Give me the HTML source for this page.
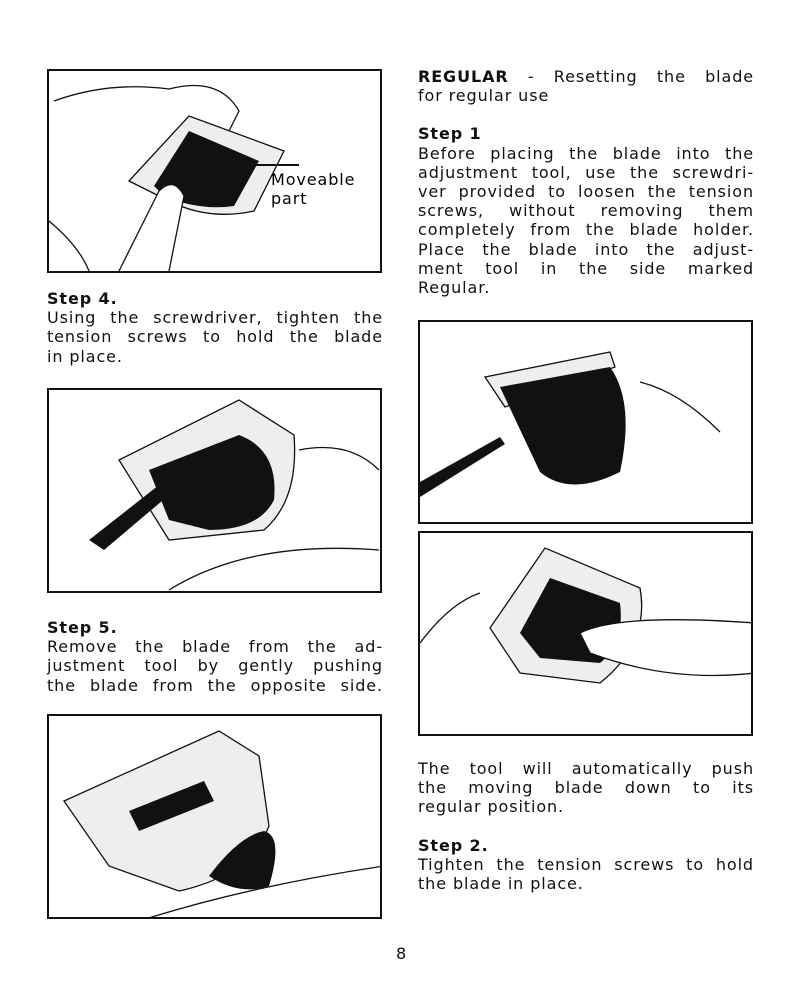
<!DOCTYPE html>
<html><head><meta charset="utf-8"><style>
body{margin:0;width:800px;height:1000px;background:#fff;position:relative;font-family:"DejaVu Sans","Liberation Sans",sans-serif;color:#111;overflow:hidden}
.box{position:absolute;border:2px solid #111;box-sizing:border-box;background:#fff;overflow:hidden}
.t{position:absolute;font-size:16px;line-height:19.2px;width:335px}
.t div{white-space:nowrap;text-align:justify;text-align-last:justify;letter-spacing:0.9px;width:336px}
.t div.l{text-align-last:left}
b{font-weight:bold}
svg{position:absolute;left:0;top:0}
</style></head><body>

<div class="box" style="left:47px;top:69px;width:335px;height:204px">
<svg width="335" height="204">
<path d="M5 30 Q60 10 120 18 Q170 5 190 40 L180 60" fill="none" stroke="#111" stroke-width="1.3"/>
<path d="M80 110 L140 45 L235 80 L205 140 Q160 150 120 130 Z" fill="#eee" stroke="#111" stroke-width="1.3"/>
<path d="M105 115 L140 60 L210 90 L185 135 Q150 140 115 125 Z" fill="#111"/>
<path d="M70 200 L110 120 Q125 105 135 125 L120 200" fill="#fff" stroke="#111" stroke-width="1.3"/>
<path d="M0 150 Q30 175 40 200" fill="none" stroke="#111" stroke-width="1.3"/>
<line x1="195" y1="94" x2="250" y2="94" stroke="#111" stroke-width="2"/>
<text x="222" y="114" font-size="16" letter-spacing="0.9" font-family="DejaVu Sans">Moveable</text>
<text x="222" y="133" font-size="16" letter-spacing="0.9" font-family="DejaVu Sans">part</text>
</svg></div>

<div class="t" style="left:47px;top:289px"><div class="l"><b>Step 4.</b></div>
<div>Using the screwdriver, tighten the</div><div>tension screws to hold the blade</div><div class="l">in place.</div></div>

<div class="box" style="left:47px;top:388px;width:335px;height:205px">
<svg width="335" height="205">
<path d="M70 70 L190 10 L245 45 Q250 110 215 140 L120 150 Z" fill="#eee" stroke="#111" stroke-width="1.3"/>
<path d="M100 80 L190 45 Q230 60 225 110 Q210 140 160 140 L120 130 Z" fill="#111"/>
<path d="M40 150 L110 95 L120 105 L55 160 Z" fill="#111"/>
<path d="M120 200 Q200 150 330 160" fill="none" stroke="#111" stroke-width="1.3"/>
<path d="M250 60 Q300 50 330 80" fill="none" stroke="#111" stroke-width="1.3"/>
</svg></div>

<div class="t" style="left:47px;top:618px"><div class="l"><b>Step 5.</b></div>
<div>Remove the blade from the ad-</div><div>justment tool by gently pushing</div><div>the blade from the opposite side.</div></div>

<div class="box" style="left:47px;top:714px;width:335px;height:205px">
<svg width="335" height="205">
<path d="M15 85 L170 15 L210 40 L220 110 Q200 160 130 175 L60 150 Z" fill="#eee" stroke="#111" stroke-width="1.3"/>
<path d="M80 95 L155 65 L165 85 L90 115 Z" fill="#111"/>
<path d="M160 160 Q190 120 215 115 Q235 120 220 170 Q190 180 160 160 Z" fill="#111"/>
<path d="M90 205 Q200 170 335 150" fill="none" stroke="#111" stroke-width="1.3"/>
</svg></div>

<div class="t" style="left:418px;top:67px"><div><b>REGULAR</b> - Resetting the blade</div><div class="l">for regular use</div>
<div class="l" style="margin-top:19px"><b>Step 1</b></div>
<div>Before placing the blade into the</div><div>adjustment tool, use the screwdri-</div><div>ver provided to loosen the tension</div><div>screws, without removing them</div><div>completely from the blade holder.</div><div>Place the blade into the adjust-</div><div>ment tool in the side marked</div><div class="l">Regular.</div></div>

<div class="box" style="left:418px;top:320px;width:335px;height:204px">
<svg width="335" height="204">
<path d="M65 55 L190 30 L195 45 L85 85 Z" fill="#eee" stroke="#111" stroke-width="1.3"/>
<path d="M80 65 L190 45 Q215 80 200 150 Q150 175 120 150 Z" fill="#111"/>
<path d="M0 160 L80 115 L85 122 L0 175 Z" fill="#111"/>
<path d="M220 60 Q260 70 300 110" fill="none" stroke="#111" stroke-width="1.3"/>
</svg></div>

<div class="box" style="left:418px;top:531px;width:335px;height:205px">
<svg width="335" height="205">
<path d="M70 95 L125 15 L220 55 Q230 110 180 150 L100 140 Z" fill="#eee" stroke="#111" stroke-width="1.3"/>
<path d="M100 100 L130 45 L200 70 Q205 110 180 130 L120 125 Z" fill="#111"/>
<path d="M160 100 Q200 80 335 90 L335 140 Q250 150 170 120 Z" fill="#fff" stroke="#111" stroke-width="1.3"/>
<path d="M0 110 Q30 70 60 60" fill="none" stroke="#111" stroke-width="1.3"/>
</svg></div>

<div class="t" style="left:418px;top:759px"><div>The tool will automatically push</div><div>the moving blade down to its</div><div class="l">regular position.</div>
<div class="l" style="margin-top:19px"><b>Step 2.</b></div>
<div>Tighten the tension screws to hold</div><div class="l">the blade in place.</div></div>

<div style="position:absolute;left:396px;top:944px;font-size:16px">8</div>
</body></html>
